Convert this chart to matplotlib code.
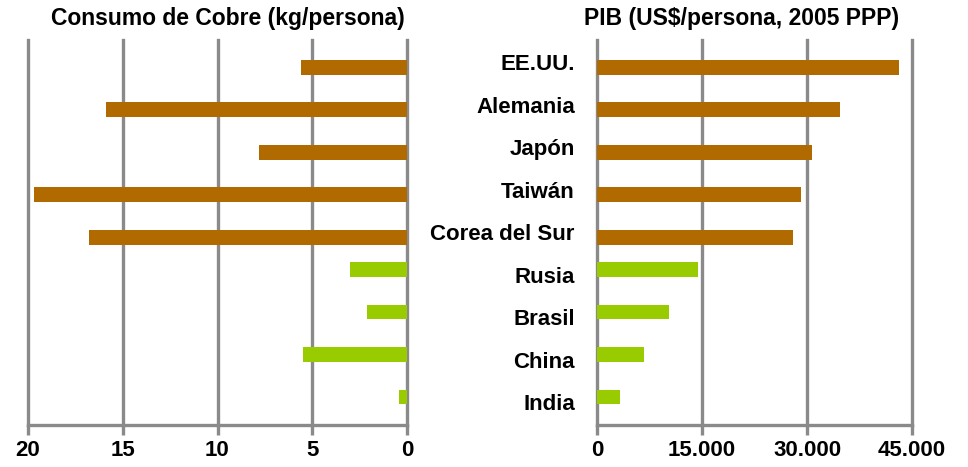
import numpy as np
import matplotlib
matplotlib.use("Agg")
import matplotlib.pyplot as plt

# data
paises = ["EE.UU.", "Alemania", "Japón", "Taiwán", "Corea del Sur",
          "Rusia", "Brasil", "China", "India"]
grupo = ["desarrollado"] * 5 + ["emergente"] * 4
cobre = [5.6, 15.9, 7.8, 19.7, 16.8, 3.0, 2.1, 5.5, 0.4]          # kg/persona
pib = [43100, 34700, 30700, 29100, 28000, 14400, 10300, 6700, 3300]  # US$/persona

cobre_ticks = [20, 15, 10, 5, 0]
cobre_labels = ["20", "15", "10", "5", "0"]
pib_ticks = [0, 15000, 30000, 45000]
pib_labels = ["0", "15.000", "30.000", "45.000"]

colores = {"desarrollado": "#B06A00", "emergente": "#99CC00"}
gris = "#8A8A8A"

plt.rcParams['font.family'] = ['Liberation Sans', 'DejaVu Sans']

fig = plt.figure(figsize=(9.68, 4.67), dpi=100)
W, H = 968, 467


def px_axes(x0, x1, y0, y1):
    return fig.add_axes([x0 / W, 1 - y1 / H, (x1 - x0) / W, (y1 - y0) / H])


ax1 = px_axes(28, 407, 40, 425)
ax2 = px_axes(597, 912, 40, 425)

pos = np.arange(len(paises))
desp = np.array([0.12 if g == "desarrollado" else -0.12 for g in grupo])
cols = [colores[g] for g in grupo]

ax1.barh(pos + desp, cobre, height=0.35, color=cols, zorder=3)
ax2.barh(pos + desp, pib, height=0.35, color=cols, zorder=3)

ax1.set_xlim(20, 0)
ax1.set_xticks(cobre_ticks)
ax1.set_xticklabels(cobre_labels)
ax2.set_xlim(0, 45000)
ax2.set_xticks(pib_ticks)
ax2.set_xticklabels(pib_labels)

for ax in (ax1, ax2):
    ax.set_ylim(8.54, -0.52)
    for s in ("top", "left", "right"):
        ax.spines[s].set_visible(False)
    ax.spines["bottom"].set_color(gris)
    ax.spines["bottom"].set_linewidth(2.4)
    ax.xaxis.grid(True, color=gris, linewidth=2.4, zorder=1)
    ax.set_axisbelow(True)
    for ln in ax.get_xgridlines():
        ln.set_clip_on(False)
    ax.tick_params(axis="x", colors=gris, length=7, width=2.4, pad=4,
                   labelcolor="black", labelsize=16)
    for t in ax.get_xticklabels():
        t.set_fontweight("bold")

ax1.set_yticks([])
ax2.set_yticks(pos)
ax2.set_yticklabels(paises, fontsize=16, fontweight="bold")
ax2.tick_params(axis="y", length=0, pad=16)

fig.text(228 / W, 1 - 19 / H, "Consumo de Cobre (kg/persona)", ha="center",
         va="center", fontsize=16.5, fontweight="bold")
fig.text(742 / W, 1 - 19 / H, "PIB (US$/persona, 2005 PPP)", ha="center",
         va="center", fontsize=16.5, fontweight="bold")

fig.savefig("out.png", dpi=100)
